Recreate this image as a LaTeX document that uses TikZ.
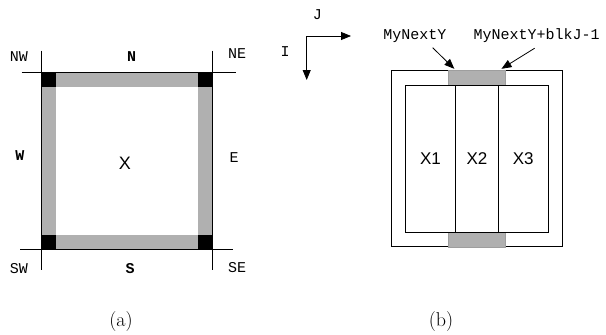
\documentclass[tikz,border=0pt]{standalone}
\usepackage{fontspec}
\newfontfamily\courfont{Liberation Mono}
\newfontfamily\arialfont{Liberation Sans}
\usetikzlibrary{positioning, arrows.meta, calc}

\begin{document}
\begin{tikzpicture}[
  x=1pt, y=-1pt,
  lbl/.style={font=\fontsize{15}{15}\courfont, inner sep=0pt},
  cell/.style={draw, line width=0.8pt, anchor=north west, outer sep=0pt, minimum height=147pt, inner sep=0pt, font=\fontsize{17}{17}\arialfont},
  captxt/.style={font=\fontsize{20}{20}\selectfont, inner sep=0pt},
  band/.style={fill=black!31, draw=black!38, line width=0.5pt, anchor=north west, outer sep=0pt, minimum width=57.2pt, minimum height=14.8pt, inner sep=0pt},
  edge/.style={line width=0.8pt},
  ar/.style={-{Triangle[length=10pt,width=8pt]}, line width=0.8pt}
]
\useasboundingbox (0,0) rectangle (606,335);

% (a) block X with its four halo bands and corner cells
\fill[black!31] (41,72.3) rectangle (212.7,86.7);
\fill[black!31] (41,234.6) rectangle (212.7,249);
\fill[black!31] (41,72.3) rectangle (55.7,249);
\fill[black!31] (198,72.3) rectangle (212.7,249);
\fill (41,72.3) rectangle (55.7,86.7);
\fill (198,72.3) rectangle (212.7,86.7);
\fill (41,234.6) rectangle (55.7,249);
\fill (198,234.6) rectangle (212.7,249);
\draw[edge] (41,50.7) -- (41,270);
\draw[edge] (212.7,50.7) -- (212.7,270);
\draw[edge] (21.7,72.3) -- (236,72.3);
\draw[edge] (20,249) -- (233,249);

\node[lbl] (nw) at (19,56.7) {NW};
\node[lbl, font=\fontsize{15}{15}\courfont\bfseries] (n) at (131.7,56.7) {N};
\node[lbl] (ne) at (237,54) {NE};
\node[lbl, font=\fontsize{15}{15}\courfont\bfseries] (w) at (20,156) {W};
\node[inner sep=0pt, font=\fontsize{18}{18}\arialfont] (x) at (125,163) {X};
\node[lbl] (e) at (234,158) {E};
\node[lbl] (sw) at (19,269) {SW};
\node[lbl, font=\fontsize{15}{15}\courfont\bfseries] (s) at (130,269) {S};
\node[lbl] (se) at (237,268) {SE};

% (b) index axes
\coordinate (orig) at (306.7,36);
\coordinate (jend) at (351,36);
\coordinate (iend) at (306.7,80);
\draw[ar] (orig) -- (jend);
\draw[ar] (orig) -- (iend);
\node[lbl] (j) at (317.3,15) {J};
\node[lbl] (i) at (285,52) {I};

% (b) tile, halo rows and the three blocks
\draw[edge] (391,70.3) rectangle (562.3,246.7);
\node[band] (bandtop) at (448.3,70.3) {};
\node[band] (bandbot) at (448.3,232.1) {};
\node[cell, minimum width=50.2pt] (x1) at (405.3,85.3) {X1};
\node[cell, minimum width=42.8pt, right=0pt of x1.north east, anchor=north west] (x2) {X2};
\node[cell, minimum width=50pt, right=0pt of x2.north east, anchor=north west] (x3) {X3};

\node[lbl] (ylo) at (415,36) {MyNextY};
\node[lbl] (yhi) at (536.7,36) {MyNextY+blkJ-1};
\draw[ar] ([xshift=-14pt,yshift=-5pt]ylo.south east) -- ([xshift=6pt,yshift=1.5pt]bandtop.north west);
\draw[ar] ([xshift=-2pt,yshift=-5pt]yhi.south) -- ([xshift=-4pt,yshift=1.5pt]bandtop.north east);

% captions
\node[captxt] (capa) at (121,321.7) {(a)};
\node[captxt] (capb) at (441,321.7) {(b)};
\end{tikzpicture}
\end{document}
